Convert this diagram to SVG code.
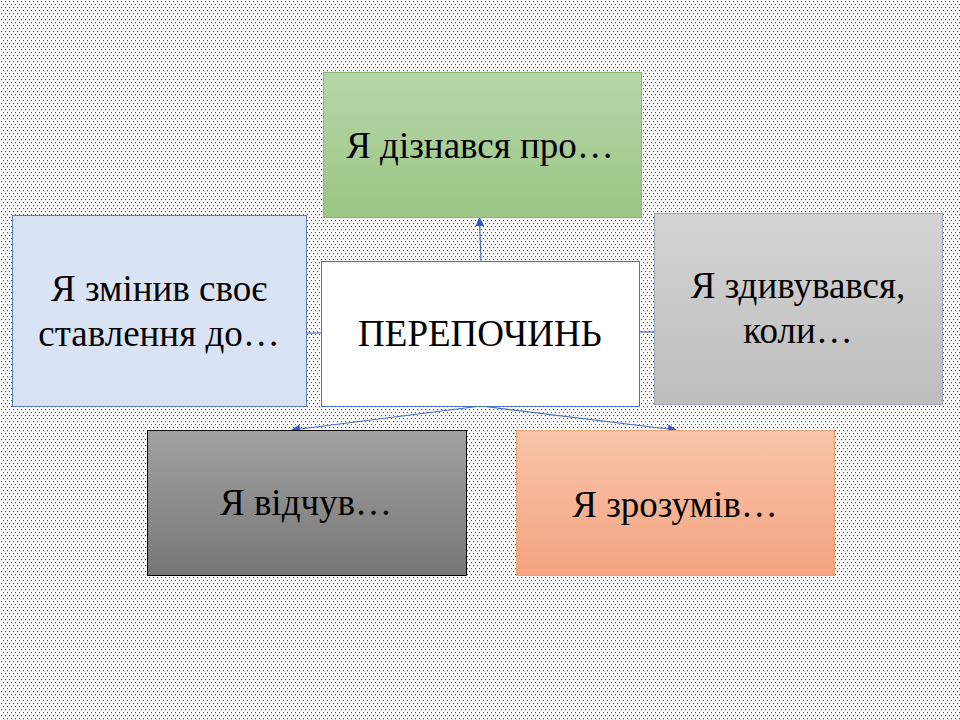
<svg xmlns="http://www.w3.org/2000/svg" width="960" height="720" viewBox="0 0 960 720">
<defs>
<pattern id="dots" width="4" height="6" patternUnits="userSpaceOnUse">
<rect x="1" y="1" width="1.2" height="1.2" fill="#44557c"/>
<rect x="3" y="4" width="1.2" height="1.2" fill="#44557c"/>
</pattern>
<linearGradient id="gGreen" x1="0" y1="0" x2="0" y2="1"><stop offset="0" stop-color="#b6d6a8"/><stop offset="1" stop-color="#9bc683"/></linearGradient>
<linearGradient id="gLight" x1="0" y1="0" x2="0" y2="1"><stop offset="0" stop-color="#d4d4d4"/><stop offset="1" stop-color="#bdbdbd"/></linearGradient>
<linearGradient id="gDark" x1="0" y1="0" x2="0" y2="1"><stop offset="0" stop-color="#a1a1a1"/><stop offset="1" stop-color="#777777"/></linearGradient>
<linearGradient id="gOrange" x1="0" y1="0" x2="0" y2="1"><stop offset="0" stop-color="#f8c4aa"/><stop offset="1" stop-color="#f4a47f"/></linearGradient>
<marker id="arr" viewBox="0 0 10 10" refX="9" refY="5" markerWidth="9" markerHeight="9" markerUnits="userSpaceOnUse" orient="auto">
<path d="M0,0 L10,5 L0,10 z" fill="#2f55d4"/>
</marker>
<style>
text{font-family:'Liberation Serif','Times New Roman',serif;font-size:37px;fill:#000;text-anchor:middle}
.c{fill:none;stroke:#4a6fc8;stroke-width:1.2}
</style>
</defs>
<rect width="960" height="720" fill="#ffffff"/>
<rect width="960" height="720" fill="url(#dots)"/>
<g id="connectors">
<line class="c" x1="481" y1="261" x2="479.5" y2="218" marker-end="url(#arr)"/>
<line class="c" x1="321" y1="333" x2="291" y2="333" marker-end="url(#arr)"/>
<line class="c" x1="639" y1="332" x2="669" y2="332" marker-end="url(#arr)"/>
<line class="c" x1="481" y1="406" x2="292" y2="430" marker-end="url(#arr)"/>
<line class="c" x1="481" y1="406" x2="676" y2="430" marker-end="url(#arr)"/>
</g>
<g id="green">
<rect x="323.5" y="72.5" width="318" height="145" fill="url(#gGreen)" stroke="#8ab673" stroke-width="1"/>
<text x="480" y="158">Я дізнався про…</text>
</g>
<g id="blue">
<rect x="12.5" y="215.5" width="294" height="191" fill="#dae3f3" stroke="#5a7fc8" stroke-width="1"/>
<text x="159" y="301">Я змінив своє</text>
<text x="159" y="346">ставлення до…</text>
</g>
<g id="center">
<rect x="321.5" y="261.5" width="318" height="145" fill="#ffffff" stroke="#4a6fc8" stroke-width="1"/>
<text x="480" y="346">ПЕРЕПОЧИНЬ</text>
</g>
<g id="gray">
<rect x="654.5" y="213.5" width="288" height="191" fill="url(#gLight)" stroke="#9aa6b8" stroke-width="1"/>
<text x="798" y="298">Я здивувався,</text>
<text x="798" y="343">коли…</text>
</g>
<g id="dark">
<rect x="147.5" y="430.5" width="319" height="145" fill="url(#gDark)" stroke="#000000" stroke-width="1"/>
<text x="306" y="515">Я відчув…</text>
</g>
<g id="orange">
<rect x="516.5" y="430.5" width="318" height="145" fill="url(#gOrange)" stroke="#f0a070" stroke-width="1"/>
<text x="675" y="517">Я зрозумів…</text>
</g>
</svg>
